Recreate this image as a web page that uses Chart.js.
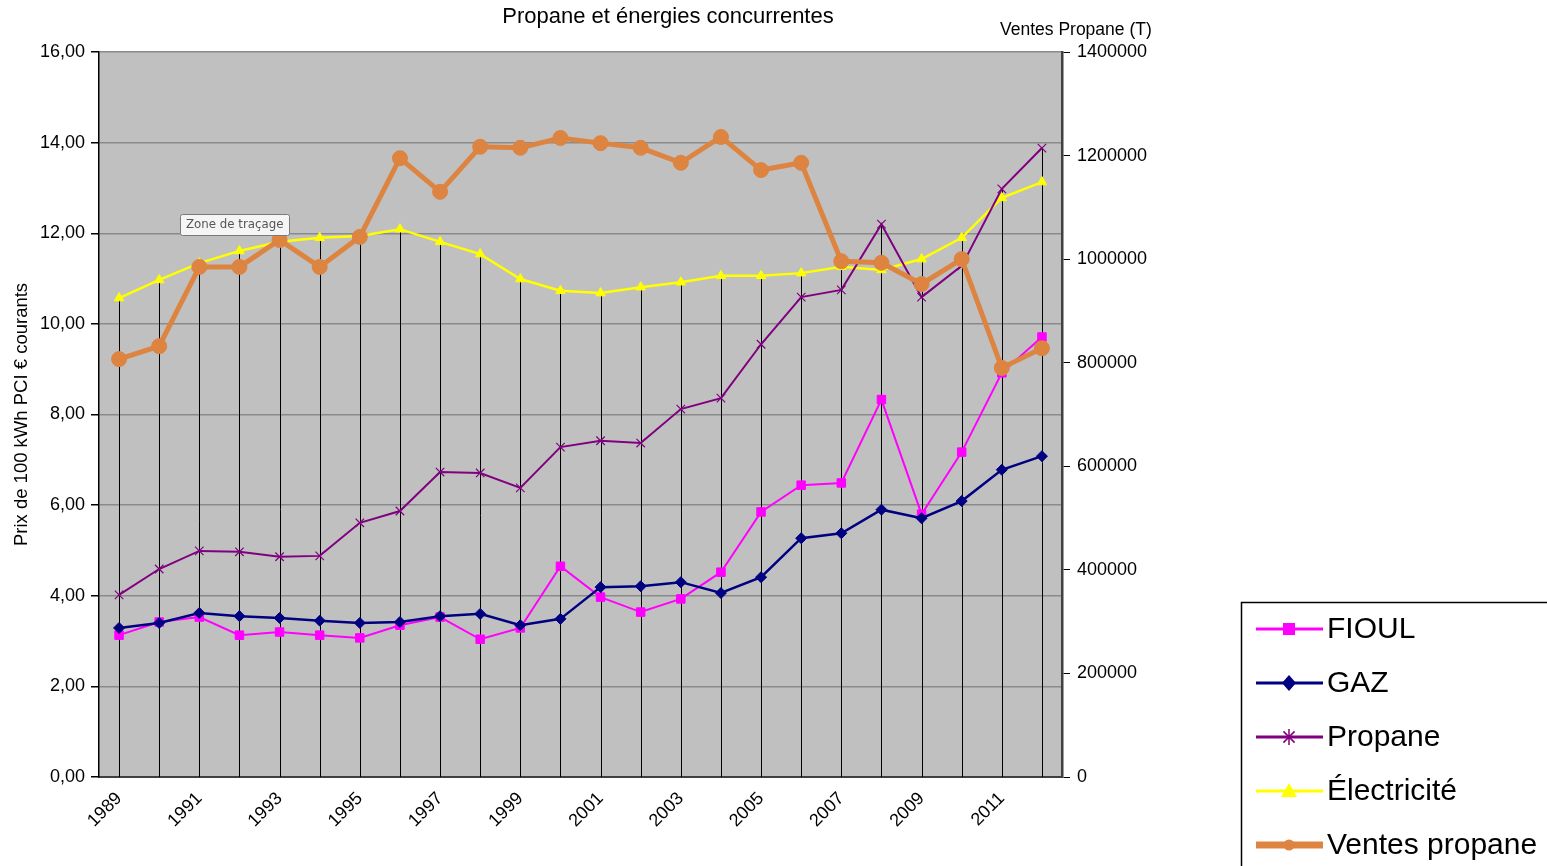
<!DOCTYPE html>
<html>
<head>
<meta charset="utf-8">
<script src="https://cdn.jsdelivr.net/npm/chart.js@4/dist/chart.umd.min.js"></script>
<style>
	html, body { margin: 0; padding: 0; background: #fff; }
	canvas { display: block; }
</style>
</head>
<body>
<canvas id="myChart" width="1547" height="866"></canvas>
<script>
const years = ['1989','1990','1991','1992','1993','1994','1995','1996','1997','1998','1999','2000',
	'2001','2002','2003','2004','2005','2006','2007','2008','2009','2010','2011','2012'];
const fioul = [3.13, 3.42, 3.53, 3.13, 3.20, 3.13, 3.07, 3.35, 3.53, 3.04, 3.29, 4.65,
	3.97, 3.64, 3.93, 4.52, 5.85, 6.44, 6.49, 8.33, 5.80, 7.17, 8.92, 9.71];
const gaz = [3.29, 3.40, 3.62, 3.55, 3.51, 3.45, 3.40, 3.42, 3.55, 3.60, 3.35, 3.49,
	4.19, 4.21, 4.30, 4.06, 4.41, 5.27, 5.38, 5.90, 5.71, 6.09, 6.78, 7.08];
const propane = [4.02, 4.59, 4.99, 4.97, 4.86, 4.88, 5.61, 5.87, 6.73, 6.71, 6.38, 7.28,
	7.42, 7.37, 8.12, 8.36, 9.55, 10.59, 10.75, 12.20, 10.59, 11.28, 12.98, 13.88];
const electricite = [10.57, 10.97, 11.34, 11.61, 11.81, 11.90, 11.94, 12.09, 11.81, 11.54, 10.99, 10.73,
	10.68, 10.81, 10.92, 11.06, 11.06, 11.12, 11.26, 11.19, 11.43, 11.90, 12.78, 13.13];
const ventes = [807000, 832000, 985000, 985000, 1037000, 985000, 1043000, 1195000, 1130000, 1217000, 1215000, 1234000,
	1224000, 1215000, 1186000, 1236000, 1172000, 1186000, 996000, 993000, 952000, 1000000, 790000, 828000];

function createChart(){
	var chart = document.getElementById('myChart');
	const fontFam = '"Liberation Sans", Arial, sans-serif';

	// fond gris de la zone de traçage
	const plotBg = {
		id: 'plotBg',
		beforeDraw(c) {
			const a = c.chartArea, ctx = c.ctx;
			ctx.save();
			ctx.fillStyle = '#C0C0C0';
			ctx.fillRect(a.left, a.top, a.right - a.left, a.bottom - a.top);
			ctx.restore();
		}
	};

	// lignes de projection (max des séries axe gauche -> axe X)
	const dropLines = {
		id: 'dropLines',
		beforeDatasetsDraw(c) {
			const ctx = c.ctx, xs = c.scales.x, ys = c.scales.y, a = c.chartArea;
			ctx.save();
			ctx.strokeStyle = '#000';
			ctx.lineWidth = 1;
			for (let i = 0; i < years.length; i++) {
				const m = Math.max(fioul[i], gaz[i], propane[i], electricite[i]);
				const x = Math.round(xs.getPixelForValue(i)) + 0.5;
				ctx.beginPath();
				ctx.moveTo(x, ys.getPixelForValue(m));
				ctx.lineTo(x, a.bottom);
				ctx.stroke();
			}
			ctx.restore();
		}
	};

	// marqueurs de légende
	function legendMarker(ctx, style, color, x, y) {
		ctx.fillStyle = color;
		ctx.strokeStyle = color;
		ctx.beginPath();
		if (style === 'rect') {
			ctx.fillRect(x - 6, y - 6, 12, 12);
		} else if (style === 'rectRot') {
			ctx.moveTo(x, y - 8); ctx.lineTo(x + 7, y); ctx.lineTo(x, y + 8); ctx.lineTo(x - 7, y);
			ctx.closePath(); ctx.fill();
		} else if (style === 'crossRot') {
			ctx.lineWidth = 1.5;
			const r = 8;
			ctx.moveTo(x - r, y); ctx.lineTo(x + r, y);
			ctx.moveTo(x, y - r); ctx.lineTo(x, y + r);
			ctx.moveTo(x - r * 0.7, y - r * 0.7); ctx.lineTo(x + r * 0.7, y + r * 0.7);
			ctx.moveTo(x - r * 0.7, y + r * 0.7); ctx.lineTo(x + r * 0.7, y - r * 0.7);
			ctx.stroke();
		} else if (style === 'triangle') {
			ctx.moveTo(x, y - 8); ctx.lineTo(x + 8, y + 6); ctx.lineTo(x - 8, y + 6);
			ctx.closePath(); ctx.fill();
		} else {
			ctx.arc(x, y, 5.5, 0, Math.PI * 2);
			ctx.fill();
		}
	}

	// titre, légende, titre d'axe droit, étiquette "Zone de traçage"
	const extras = {
		id: 'extras',
		afterDraw(c) {
			const ctx = c.ctx;
			ctx.save();
			ctx.fillStyle = '#000';
			ctx.textBaseline = 'middle';
			ctx.textAlign = 'center';
			ctx.font = '22px ' + fontFam;
			ctx.fillText('Propane et énergies concurrentes', 668, 17);

			ctx.textAlign = 'left';
			ctx.font = '17.5px ' + fontFam;
			ctx.fillText('Ventes Propane (T)', 1000, 30);

			// légende
			ctx.strokeStyle = '#000';
			ctx.lineWidth = 1.5;
			ctx.strokeRect(1241.5, 602.5, 500, 400);
			c.data.datasets.forEach((ds, i) => {
				const y = 629 + 54 * i;
				ctx.strokeStyle = ds.borderColor;
				ctx.lineWidth = ds.borderWidth > 3 ? 7 : 3;
				ctx.beginPath();
				ctx.moveTo(1256, y);
				ctx.lineTo(1323, y);
				ctx.stroke();
				legendMarker(ctx, ds.pointStyle, ds.pointBackgroundColor, 1289, y);
				ctx.fillStyle = '#000';
				ctx.font = '30px ' + fontFam;
				ctx.fillText(ds.label, 1327, y + 1);
			});

			// étiquette "Zone de traçage"
			ctx.fillStyle = '#F5F5F5';
			ctx.strokeStyle = '#7A7A7A';
			ctx.lineWidth = 1;
			ctx.beginPath();
			ctx.roundRect(180.5, 214.5, 109, 21, 2);
			ctx.fill();
			ctx.stroke();
			ctx.fillStyle = '#555';
			ctx.font = '11.8px "DejaVu Sans", sans-serif';
			ctx.fillText('Zone de traçage', 186, 225);
			ctx.restore();
		}
	};

	const data = {
		labels: years,
		datasets: [{
			label: 'FIOUL',
			data: fioul,
			borderColor: '#FF00FF',
			backgroundColor: '#FF00FF',
			pointBackgroundColor: '#FF00FF',
			pointBorderColor: '#FF00FF',
			pointStyle: 'rect',
			pointRadius: 6,
			pointBorderWidth: 1,
			borderWidth: 2,
			yAxisID: 'y',
			order: 2
		}, {
			label: 'GAZ',
			data: gaz,
			borderColor: '#000080',
			backgroundColor: '#000080',
			pointBackgroundColor: '#000080',
			pointBorderColor: '#000080',
			pointStyle: 'rectRot',
			pointRadius: 5.5,
			pointBorderWidth: 1,
			borderWidth: 2.5,
			yAxisID: 'y',
			order: 1
		}, {
			label: 'Propane',
			data: propane,
			borderColor: '#800080',
			backgroundColor: '#800080',
			pointBackgroundColor: '#800080',
			pointBorderColor: '#800080',
			pointStyle: 'crossRot',
			pointRadius: 6,
			pointBorderWidth: 1.2,
			borderWidth: 2,
			yAxisID: 'y',
			order: 3
		}, {
			label: 'Électricité',
			data: electricite,
			borderColor: '#FFFF00',
			backgroundColor: '#FFFF00',
			pointBackgroundColor: '#FFFF00',
			pointBorderColor: '#FFFF00',
			pointStyle: 'triangle',
			pointRadius: 5.5,
			pointBorderWidth: 1,
			borderWidth: 2.5,
			yAxisID: 'y',
			order: 4
		}, {
			label: 'Ventes propane',
			data: ventes,
			borderColor: '#DD8441',
			backgroundColor: '#DD8441',
			pointBackgroundColor: '#DD8441',
			pointBorderColor: '#DD8441',
			pointStyle: 'circle',
			pointRadius: 7.5,
			pointBorderWidth: 1,
			borderWidth: 5,
			yAxisID: 'y1',
			order: 0
		}]
	};

	const tickFont = {family: fontFam, size: 18};

	const config = {
		type: 'line',
		data: data,
		plugins: [plotBg, dropLines, extras],
		options: {
			responsive: false,
			animation: false,
			devicePixelRatio: 1,
			layout: {padding: {left: 0, right: 385, top: 52, bottom: 0}},
			elements: {line: {tension: 0}},
			plugins: {
				legend: {display: false},
				tooltip: {enabled: false},
				title: {display: false}
			},
			scales: {
				x: {
					offset: true,
					grid: {display: false},
					border: {color: '#404040', width: 2},
					ticks: {
						autoSkip: false,
						maxRotation: 45,
						minRotation: 45,
						color: '#000',
						font: {family: fontFam, size: 18},
						callback: (v, i) => (i % 2 === 0 ? years[i] : '')
					},
					afterFit: (s) => { s.height = 89; }
				},
				y: {
					position: 'left',
					min: 0,
					max: 16,
					ticks: {
						stepSize: 2,
						color: '#000',
						font: tickFont,
						padding: 6,
						callback: (v) => v.toFixed(2).replace('.', ',')
					},
					grid: {color: '#8A8A8A', lineWidth: 1.5, tickColor: '#000', tickLength: 8},
					border: {color: '#000', width: 1.5},
					title: {
						display: true,
						text: 'Prix de 100 kWh PCI € courants',
						color: '#000',
						font: {family: fontFam, size: 18.5},
						padding: {top: 11, bottom: 0}
					},
					afterFit: (s) => { s.width = 99; }
				},
				y1: {
					position: 'right',
					min: 0,
					max: 1400000,
					ticks: {
						stepSize: 200000,
						color: '#000',
						font: tickFont,
						padding: 7,
						callback: (v) => String(v)
					},
					grid: {drawOnChartArea: false, tickColor: '#000', tickLength: 8},
					border: {color: '#404040', width: 2.5},
					afterFit: (s) => { s.width = 100; }
				}
			}
		}
	};

	const myChart = new Chart(chart, config);
}

document.addEventListener("DOMContentLoaded", createChart);
</script>
</body>
</html>
